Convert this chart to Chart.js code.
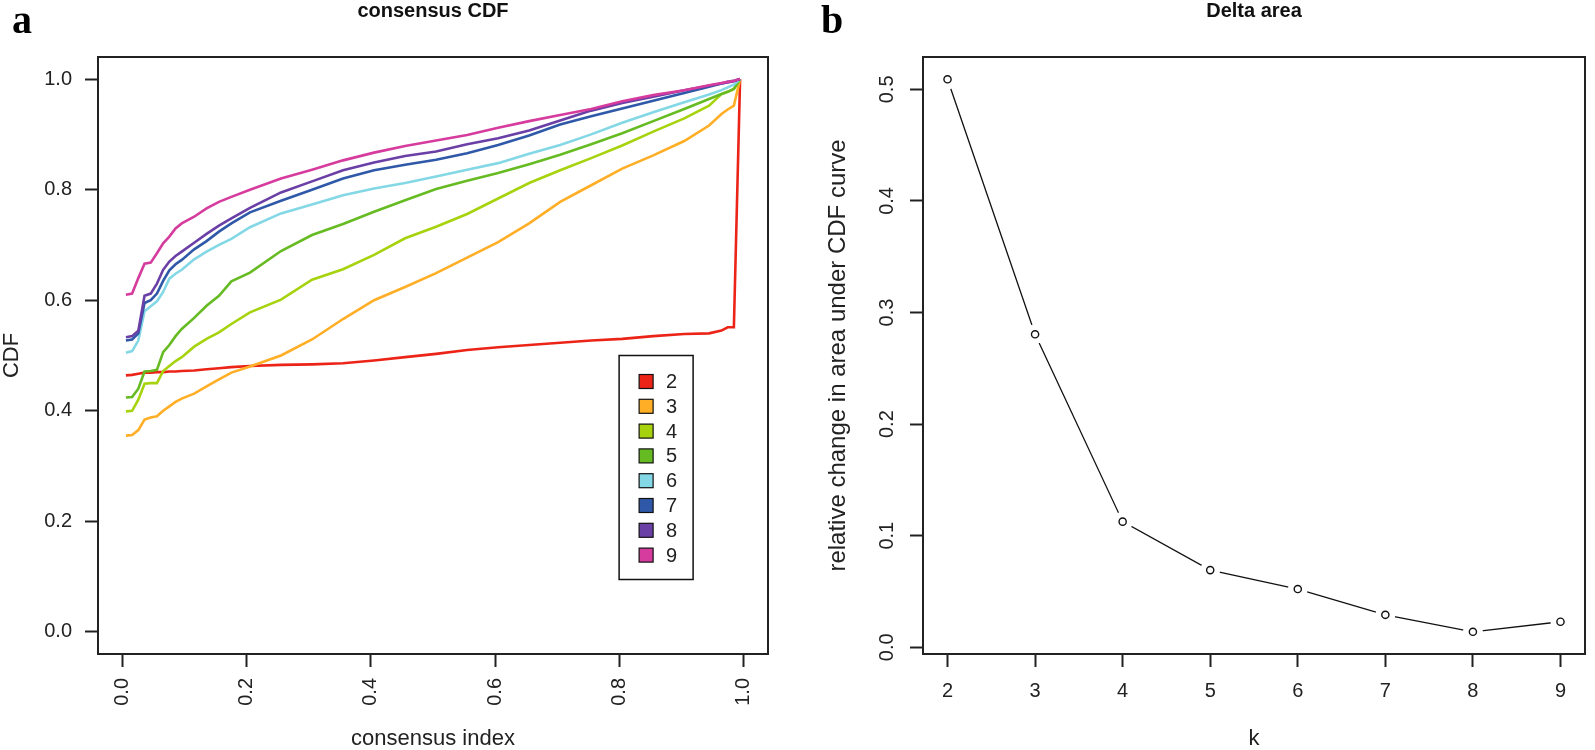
<!DOCTYPE html>
<html>
<head>
<meta charset="utf-8">
<title>consensus CDF / Delta area</title>
<script src="https://cdn.jsdelivr.net/npm/chart.js@4.4.1/dist/chart.umd.min.js"></script>
<style>
  body { margin: 0; background: #fff; overflow: hidden; }
  #wrap { position: relative; width: 1595px; height: 750px; }
  canvas { position: absolute; top: 0; }
  .tag { position: absolute; top: 0; font: bold 40px/40px "Liberation Serif", "Times New Roman", serif; color: #000; z-index: 2; }
</style>
</head>
<body>
<div id="wrap">
  <div class="tag" style="left:12px">a</div>
  <div class="tag" style="left:821px">b</div>
  <canvas id="cdf" width="800" height="750" style="left:0"></canvas>
  <canvas id="delta" width="795" height="750" style="left:800px"></canvas>
</div>
<script>
// consensus index positions (histogram mids)
const cdfX = [0.005, 0.015, 0.025, 0.035, 0.045, 0.055, 0.065, 0.075, 0.085, 0.095,
  0.115, 0.135, 0.155, 0.175, 0.205, 0.255, 0.305, 0.355, 0.405, 0.455, 0.505, 0.555,
  0.605, 0.655, 0.705, 0.755, 0.805, 0.855, 0.905, 0.945, 0.965, 0.975, 0.985, 0.995];

// CDF values per k
const cdfK2 = [0.464, 0.465, 0.467, 0.469, 0.469, 0.470, 0.470, 0.471, 0.471, 0.472,
  0.473, 0.475, 0.477, 0.479, 0.481, 0.483, 0.484, 0.486, 0.491, 0.497, 0.503, 0.510,
  0.515, 0.519, 0.523, 0.527, 0.530, 0.535, 0.539, 0.540, 0.545, 0.551, 0.551, 1.0];
const cdfK3 = [0.355, 0.356, 0.365, 0.384, 0.388, 0.390, 0.400, 0.408, 0.416, 0.422,
  0.431, 0.444, 0.457, 0.469, 0.480, 0.500, 0.529, 0.566, 0.600, 0.624, 0.649, 0.677,
  0.705, 0.739, 0.778, 0.808, 0.838, 0.862, 0.888, 0.916, 0.937, 0.945, 0.952, 1.0];
const cdfK4 = [0.399, 0.400, 0.420, 0.449, 0.450, 0.450, 0.472, 0.481, 0.490, 0.497,
  0.516, 0.530, 0.542, 0.557, 0.578, 0.601, 0.637, 0.656, 0.682, 0.712, 0.733, 0.756,
  0.784, 0.812, 0.835, 0.857, 0.880, 0.905, 0.929, 0.952, 0.973, 0.977, 0.982, 1.0];
const cdfK5 = [0.424, 0.425, 0.440, 0.471, 0.472, 0.474, 0.506, 0.519, 0.535, 0.548,
  0.568, 0.590, 0.608, 0.634, 0.650, 0.689, 0.718, 0.738, 0.760, 0.781, 0.801, 0.816,
  0.830, 0.846, 0.863, 0.882, 0.902, 0.924, 0.946, 0.964, 0.973, 0.977, 0.982, 1.0];
const cdfK6 = [0.505, 0.508, 0.527, 0.580, 0.589, 0.598, 0.615, 0.639, 0.648, 0.655,
  0.674, 0.688, 0.700, 0.711, 0.732, 0.757, 0.773, 0.790, 0.802, 0.812, 0.824, 0.836,
  0.848, 0.865, 0.881, 0.900, 0.921, 0.940, 0.958, 0.972, 0.980, 0.985, 0.990, 1.0];
const cdfK7 = [0.527, 0.529, 0.540, 0.595, 0.600, 0.612, 0.635, 0.654, 0.665, 0.673,
  0.692, 0.707, 0.724, 0.739, 0.759, 0.780, 0.800, 0.820, 0.835, 0.845, 0.854, 0.866,
  0.881, 0.898, 0.918, 0.933, 0.947, 0.961, 0.975, 0.986, 0.992, 0.995, 0.997, 1.0];
const cdfK8 = [0.533, 0.535, 0.545, 0.608, 0.612, 0.630, 0.655, 0.670, 0.680, 0.688,
  0.704, 0.720, 0.735, 0.748, 0.767, 0.795, 0.815, 0.835, 0.849, 0.861, 0.869, 0.882,
  0.893, 0.907, 0.925, 0.943, 0.957, 0.968, 0.980, 0.988, 0.992, 0.994, 0.996, 1.0];
const cdfK9 = [0.610, 0.612, 0.640, 0.666, 0.668, 0.685, 0.703, 0.715, 0.730, 0.739,
  0.751, 0.766, 0.778, 0.787, 0.800, 0.820, 0.836, 0.853, 0.867, 0.879, 0.889, 0.899,
  0.912, 0.924, 0.935, 0.946, 0.960, 0.971, 0.980, 0.989, 0.993, 0.995, 0.997, 1.0];

const cdfSeries = [cdfK2, cdfK3, cdfK4, cdfK5, cdfK6, cdfK7, cdfK8, cdfK9];
const cdfLabels = ['2', '3', '4', '5', '6', '7', '8', '9'];
const cdfColors = ['#ec2418', '#ffae26', '#a6d30e', '#66bb22', '#84d8e6', '#2f59a8', '#6a3fa6', '#d63c9e'];
const cdfTicks = [0, 0.2, 0.4, 0.6, 0.8, 1.0];
const cdfRange = [-0.04, 1.04];
const legendAt = [0.8, 0.5];

// Delta area panel
const deltaK = [2, 3, 4, 5, 6, 7, 8, 9];
const deltaArea = [0.509, 0.2805, 0.1126, 0.0692, 0.0522, 0.0291, 0.0139, 0.0229];
const deltaTicksY = [0, 0.1, 0.2, 0.3, 0.4, 0.5];
const deltaRangeX = [1.72, 9.28];
const deltaRangeY = [-0.006, 0.529];

Chart.defaults.font.family = '"Liberation Sans", Arial, sans-serif';
Chart.defaults.color = '#1a1a1a';

const ink = '#222';
const tickFont = { size: 20 };

// R style box around the plot region
const rBox = {
  id: 'rBox',
  afterDraw(chart) {
    const { ctx, chartArea: a } = chart;
    ctx.save();
    ctx.strokeStyle = ink;
    ctx.lineWidth = 2;
    ctx.strokeRect(a.left, a.top, a.right - a.left, a.bottom - a.top);
    ctx.restore();
  }
};

// legend(0.8, 0.5, fill = colours) like the R plot
const cdfLegend = {
  id: 'cdfLegend',
  afterDraw(chart) {
    const { ctx, scales: { x, y } } = chart;
    const left = x.getPixelForValue(legendAt[0]);
    const top = y.getPixelForValue(legendAt[1]);
    ctx.save();
    ctx.strokeStyle = '#111';
    ctx.lineWidth = 1.5;
    ctx.strokeRect(left, top, 74, 224);
    ctx.font = '20px "Liberation Sans", Arial, sans-serif';
    ctx.textBaseline = 'middle';
    chart.data.datasets.forEach((ds, i) => {
      const cy = top + 26 + i * 24.8;
      ctx.fillStyle = ds.borderColor;
      ctx.fillRect(left + 20, cy - 7, 14, 14);
      ctx.lineWidth = 1.2;
      ctx.strokeRect(left + 20, cy - 7, 14, 14);
      ctx.fillStyle = ink;
      ctx.fillText(ds.label, left + 47, cy + 1);
    });
    ctx.restore();
  }
};

function tickGrid() {
  return { display: true, drawOnChartArea: false, drawTicks: true, tickLength: 13, tickColor: ink, tickWidth: 2 };
}

function titleOpts(text) {
  return {
    display: true, text, fullSize: false,
    font: { size: 20, weight: 'bold', lineHeight: 1 },
    color: '#111',
    padding: { top: 1, bottom: 36 }
  };
}

// Panel a: consensus CDF
new Chart(document.getElementById('cdf'), {
  type: 'line',
  data: {
    datasets: cdfSeries.map((vals, i) => ({
      label: cdfLabels[i],
      data: vals.map((v, j) => ({ x: cdfX[j], y: v })),
      borderColor: cdfColors[i],
      borderWidth: 2.6,
      pointRadius: 0,
      tension: 0,
      order: cdfSeries.length - i
    }))
  },
  options: {
    responsive: false,
    animation: false,
    devicePixelRatio: 1,
    layout: { padding: { left: 0, top: 0, right: 32, bottom: 0 } },
    plugins: {
      legend: { display: false },
      tooltip: { enabled: false },
      title: titleOpts('consensus CDF')
    },
    scales: {
      x: {
        type: 'linear',
        min: cdfRange[0], max: cdfRange[1],
        afterBuildTicks: s => { s.ticks = cdfTicks.map(v => ({ value: v })); },
        afterFit: s => { s.height = 96; },
        grid: tickGrid(),
        border: { display: false },
        ticks: { font: tickFont, color: ink, minRotation: 90, maxRotation: 90, padding: 11, autoSkip: false,
          callback: v => v.toFixed(1) },
        title: { display: true, text: 'consensus index', font: { size: 22, lineHeight: 1 }, color: ink, padding: { top: 0, bottom: 0 } }
      },
      y: {
        type: 'linear',
        min: cdfRange[0], max: cdfRange[1],
        afterBuildTicks: s => { s.ticks = cdfTicks.map(v => ({ value: v })); },
        afterFit: s => { s.width = 98; },
        grid: tickGrid(),
        border: { display: false },
        ticks: { font: tickFont, color: ink, padding: 13, autoSkip: false, callback: v => v.toFixed(1) },
        title: { display: true, text: 'CDF', font: { size: 22, lineHeight: 1 }, color: ink, padding: { top: 1, bottom: 0 } }
      }
    }
  },
  plugins: [rBox, cdfLegend]
});

// Panel b: Delta area, type="b" -> line with gaps round open circles
const deltaPts = deltaK.map((k, i) => ({ x: k, y: deltaArea[i] }));
new Chart(document.getElementById('delta'), {
  type: 'line',
  data: {
    datasets: [
      { data: deltaPts, borderColor: '#111', borderWidth: 1.3, pointRadius: 0, tension: 0, order: 3 },
      { data: deltaPts, showLine: false, pointRadius: 10, pointBackgroundColor: '#fff', pointBorderWidth: 0, order: 2 },
      { data: deltaPts, showLine: false, pointRadius: 3.6, pointBackgroundColor: '#fff',
        pointBorderColor: '#111', pointBorderWidth: 1.4, order: 1 }
    ]
  },
  options: {
    responsive: false,
    animation: false,
    devicePixelRatio: 1,
    layout: { padding: { left: 0, top: 0, right: 2, bottom: 0 } },
    plugins: {
      legend: { display: false },
      tooltip: { enabled: false },
      title: titleOpts('Delta area')
    },
    scales: {
      x: {
        type: 'linear',
        min: deltaRangeX[0], max: deltaRangeX[1],
        afterBuildTicks: s => { s.ticks = deltaK.map(v => ({ value: v })); },
        afterFit: s => { s.height = 96; },
        grid: tickGrid(),
        border: { display: false },
        ticks: { font: tickFont, color: ink, maxRotation: 0, padding: 12, autoSkip: false, callback: v => String(v) },
        title: { display: true, text: 'k', font: { size: 22, lineHeight: 1 }, color: ink, padding: { top: 0, bottom: 0 } }
      },
      y: {
        type: 'linear',
        min: deltaRangeY[0], max: deltaRangeY[1],
        afterBuildTicks: s => { s.ticks = deltaTicksY.map(v => ({ value: v })); },
        afterFit: s => { s.width = 123; },
        grid: tickGrid(),
        border: { display: false },
        ticks: { font: tickFont, color: ink, minRotation: 90, maxRotation: 90, crossAlign: 'center', padding: 9,
          autoSkip: false, callback: v => v.toFixed(1) },
        title: { display: true, text: 'relative change in area under CDF curve', font: { size: 24, lineHeight: 1 },
          color: ink, padding: { top: 26, bottom: 0 } }
      }
    }
  },
  plugins: [rBox]
});
</script>
</body>
</html>
